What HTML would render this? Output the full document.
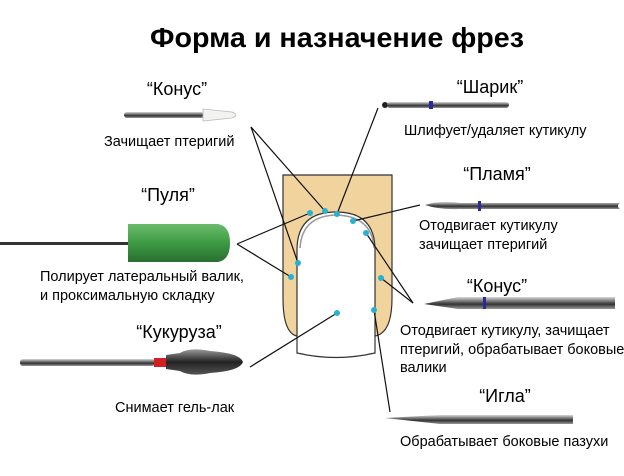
<!DOCTYPE html>
<html><head><meta charset="utf-8"><style>
html,body{margin:0;padding:0;background:#fff;}
svg{display:block;font-family:"Liberation Sans",Arial,sans-serif;}
</style></head><body>
<svg width="624" height="476" viewBox="0 0 624 476" xmlns="http://www.w3.org/2000/svg">
<defs>
<linearGradient id="metal" x1="0" y1="0" x2="0" y2="1">
<stop offset="0" stop-color="#d8d8d8"/><stop offset="0.35" stop-color="#777"/><stop offset="0.6" stop-color="#333"/><stop offset="1" stop-color="#999"/></linearGradient>
<linearGradient id="green" x1="0" y1="0" x2="0" y2="1">
<stop offset="0" stop-color="#6cbb6c"/><stop offset="0.5" stop-color="#3d9a44"/><stop offset="1" stop-color="#2a6e30"/></linearGradient>
<linearGradient id="dark" x1="0" y1="0" x2="0" y2="1">
<stop offset="0" stop-color="#999"/><stop offset="0.5" stop-color="#222"/><stop offset="1" stop-color="#555"/></linearGradient>
</defs>
<rect width="624" height="476" fill="#fff"/>
<text x="337" y="47" font-size="28" font-weight="bold" text-anchor="middle" textLength="374" lengthAdjust="spacingAndGlyphs">Форма и назначение фрез</text>

<path d="M283,175 H392 V298 Q392,333 375,336 H297 Q283,333 283,298 Z" fill="#f1d39e" stroke="#333" stroke-width="1.2"/>
<path d="M297,353 V250 Q297,212 336,212 Q375,212 375,250 V353 Q336,362 297,353 Z" fill="#fff" stroke="#333" stroke-width="1.2"/>
<path d="M300,248 Q302,216 336,215 Q372,216 374,248" fill="none" stroke="#999" stroke-width="1.5"/>

<g stroke="#111" stroke-width="1.2" fill="none">
<line x1="251" y1="127" x2="325" y2="211"/>
<line x1="251" y1="127" x2="298" y2="263"/>
<line x1="378" y1="108" x2="337" y2="214"/>
<line x1="420" y1="205" x2="353" y2="221"/>
<line x1="237" y1="244" x2="310" y2="213"/>
<line x1="237" y1="244" x2="291" y2="277"/>
<line x1="413" y1="303" x2="366" y2="233"/>
<line x1="413" y1="303" x2="381" y2="278"/>
<line x1="250" y1="367" x2="337" y2="313"/>
<line x1="390" y1="412" x2="374" y2="310"/>
</g>
<g fill="#2ab0d0">
<circle cx="310" cy="213" r="3"/><circle cx="325" cy="211" r="3"/><circle cx="337" cy="214" r="3"/>
<circle cx="353" cy="221" r="3"/><circle cx="366" cy="233" r="3"/><circle cx="298" cy="263" r="3"/>
<circle cx="291" cy="277" r="3"/><circle cx="381" cy="278" r="3"/><circle cx="374" cy="310" r="3"/>
<circle cx="337" cy="313" r="3"/>
</g>

<rect x="124" y="112" width="80" height="6" rx="3" fill="url(#metal)"/>
<path d="M203,109 L232,112 Q240,115 232,118 L203,121 Z" fill="#f2f2ee" stroke="#bbb" stroke-width="0.8"/>
<rect x="0" y="242" width="130" height="3" fill="#333"/>
<path d="M128,224 H218 Q230,226 230,243 Q230,260 218,262 H128 Z" fill="url(#green)"/>
<rect x="20" y="359" width="135" height="7" rx="3" fill="url(#metal)"/>
<rect x="154" y="358" width="12" height="9" fill="#d02020"/>
<path d="M166,355 L180,353 Q190,347 210,351 Q240,353 243,362 Q240,371 210,373 Q190,377 180,371 L166,369 Z" fill="url(#dark)"/>

<circle cx="385" cy="105" r="3" fill="#222"/>
<rect x="387" y="102" width="122" height="6" rx="3" fill="url(#metal)"/>
<rect x="429" y="101" width="4" height="8" fill="#2a2a9a"/>
<path d="M425,205 Q440,200 460,203 H620 Q616,206 620,209 H460 Q440,210 425,205 Z" fill="url(#metal)"/>
<rect x="478" y="201" width="3" height="10" fill="#2a2a9a"/>
<path d="M424,304 L458,297 H615 V309 H458 Z" fill="url(#metal)"/>
<rect x="483" y="297" width="3" height="12" fill="#2a2a9a"/>
<path d="M385,418 L440,415 H573 V424 H440 Z" fill="url(#metal)"/>

<g font-size="18" text-anchor="middle">
<text x="177" y="95">“Конус”</text>
<text x="490" y="93">“Шарик”</text>
<text x="168" y="201">“Пуля”</text>
<text x="497" y="180">“Пламя”</text>
<text x="179" y="338">“Кукуруза”</text>
<text x="497" y="292">“Конус”</text>
<text x="505" y="402">“Игла”</text>
</g>
<g font-size="14.5">
<text x="104" y="146">Зачищает птеригий</text>
<text x="404" y="135">Шлифует/удаляет кутикулу</text>
<text x="40" y="281">Полирует латеральный валик,</text>
<text x="40" y="300">и проксимальную складку</text>
<text x="419" y="230">Отодвигает кутикулу</text>
<text x="419" y="249">зачищает птеригий</text>
<text x="115" y="412">Снимает гель-лак</text>
<text x="400" y="335">Отодвигает кутикулу, зачищает</text>
<text x="400" y="354">птеригий, обрабатывает боковые</text>
<text x="400" y="372">валики</text>
<text x="400" y="446">Обрабатывает боковые пазухи</text>
</g>
</svg>
</body></html>
